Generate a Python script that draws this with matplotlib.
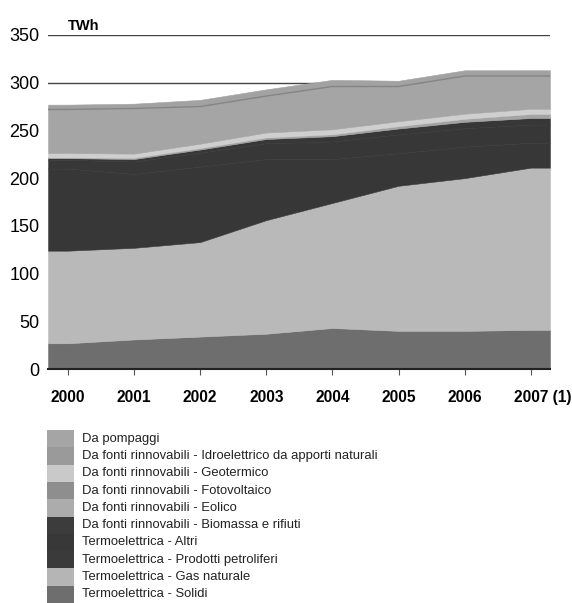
import numpy as np
import matplotlib
matplotlib.use("Agg")
import matplotlib.pyplot as plt
from matplotlib.patches import Rectangle
from matplotlib.transforms import ScaledTranslation

plt.rcParams['font.family'] = ['Liberation Sans Narrow', 'Liberation Sans', 'DejaVu Sans']

years = ['2000', '2001', '2002', '2003', '2004', '2005', '2006', '2007 (1)']

# TWh (bottom to top)
solidi = [27, 31, 34, 37, 43, 40, 40, 41]
gas = [97, 96, 99, 119, 131, 152, 160, 170]
petroliferi = [86, 77.4, 79, 64, 46, 34, 33, 26]
altri = [9, 13, 14.6, 16.5, 18.4, 19.8, 19.3, 19.1]
biomassa = [2, 2.6, 3.4, 4.5, 5.6, 6.2, 6.7, 6.9]
eolico = [0.6, 1.2, 1.4, 1.5, 1.8, 2.3, 3.0, 4.0]
fotovoltaico = [0.01, 0.01, 0.01, 0.01, 0.01, 0.01, 0.01, 0.04]
geotermico = [4.7, 4.5, 4.7, 5.3, 5.4, 5.3, 5.5, 5.6]
idro = [45.7, 47.3, 38.9, 38.2, 44.8, 36.4, 39.5, 34.4]
pompaggi = [5, 5, 7, 7, 7, 6, 6, 6]

labels = ['Termoelettrica - Solidi', 'Termoelettrica - Gas naturale',
          'Termoelettrica - Prodotti petroliferi', 'Termoelettrica - Altri',
          'Da fonti rinnovabili - Biomassa e rifiuti', 'Da fonti rinnovabili - Eolico',
          'Da fonti rinnovabili - Fotovoltaico', 'Da fonti rinnovabili - Geotermico',
          'Da fonti rinnovabili - Idroelettrico da apporti naturali', 'Da pompaggi']
colors = ['#6e6e6e', '#b9b9b9', '#373737', '#373737', '#373737',
          '#a4a4a4', '#8e8e8e', '#cfcfcf', '#a5a5a5', '#a2a2a2']
legend_colors = ['#6e6e6e', '#b5b5b5', '#3a3a3a', '#383838', '#3c3c3c',
                 '#acacac', '#8e8e8e', '#c9c9c9', '#9a9a9a', '#a5a5a5']
series = [solidi, gas, petroliferi, altri, biomassa, eolico,
          fotovoltaico, geotermico, idro, pompaggi]

fig = plt.figure(figsize=(5.72, 6.03), dpi=100)
ax = fig.add_axes([0.084, 0.388, 0.8775, 0.554])

# areas run a bit past first and last year, flat
idx = np.arange(len(years))
xs = np.r_[-0.3, idx, 7.29]
ys = [np.r_[s[0], s, s[-1]] for s in series]
polys = ax.stackplot(xs, *ys, colors=colors, zorder=2)
for p, c in zip(polys, colors):
    p.set_edgecolor(c)
    p.set_linewidth(0.4)
# the three dark thermal layers read as one block
for p in polys[2:5]:
    p.set_antialiased(False)
idro_top = np.sum(ys[:9], axis=0)
ax.plot(xs, idro_top, color='#858585', lw=1, zorder=3)

for v in [300, 350]:
    ax.axhline(v, color='#444444', lw=1, zorder=1)

ax.set_xlim(-0.3, 7.29)
ax.set_ylim(0, 350)
ax.set_yticks(range(0, 351, 50))
ax.set_xticks(idx)
ax.set_xticklabels(years, fontweight='bold', fontsize=11.2)
ax.tick_params(axis='x', direction='out', length=4, pad=11, color='#555555')
ax.tick_params(axis='y', length=0, pad=6, labelsize=13)
# "2007" sits on its tick, "(1)" hangs to the right
last = ax.get_xticklabels()[-1]
last.set_ha('left')
last.set_transform(last.get_transform() + ScaledTranslation(-0.168, 0, fig.dpi_scale_trans))
for s in ['top', 'right', 'left']:
    ax.spines[s].set_visible(False)
ax.spines['bottom'].set_color('#222222')
ax.spines['bottom'].set_linewidth(1.5)
ax.spines['bottom'].set_zorder(4)
ax.text(0.0, 352, 'TWh', fontweight='bold', fontsize=10.5, ha='left', va='bottom')

# legend: contiguous swatches, top entry = top layer
lg = fig.add_axes([0, 0, 1, 1])
lg.set_xlim(0, 572)
lg.set_ylim(603, 0)
lg.axis('off')
row_h = 17.3
y0 = 430
for i, (lab, c) in enumerate(zip(labels[::-1], legend_colors[::-1])):
    y = y0 + i * row_h
    lg.add_patch(Rectangle((47, y), 27, row_h, color=c, lw=0))
    lg.text(82, y + row_h / 2, lab, fontsize=9.4, va='center', ha='left', color='#222222')

fig.savefig('out.png', dpi=100)
